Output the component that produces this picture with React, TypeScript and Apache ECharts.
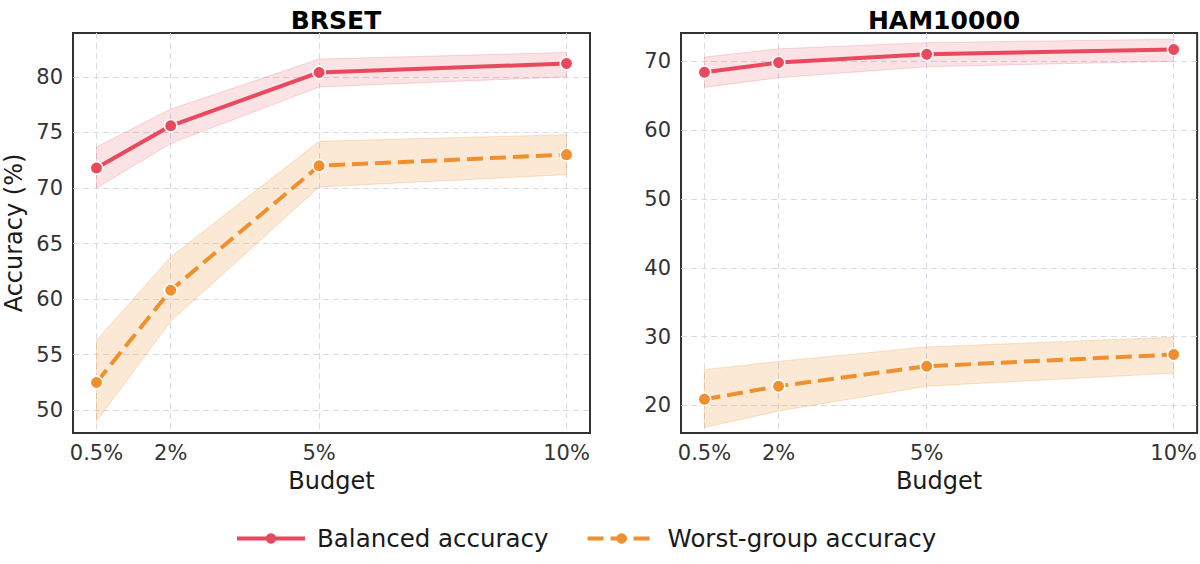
import React, { useEffect, useRef } from "react";
import * as echarts from "echarts";

// Budget positions (percent of data labelled) and their tick labels
const budgets = [0.5, 2, 5, 10];
const budgetLabels = ["0.5%", "2%", "5%", "10%"];

// BRSET
const brsetBalanced = [71.8, 75.6, 80.4, 81.2];
const brsetBalancedLo = [70.0, 74.0, 79.1, 80.0];
const brsetBalancedHi = [73.7, 77.1, 81.6, 82.2];
const brsetWorst = [52.5, 60.8, 72.0, 73.0];
const brsetWorstLo = [49.0, 58.0, 70.1, 71.2];
const brsetWorstHi = [56.3, 63.8, 74.2, 74.8];

// HAM10000
const hamBalanced = [68.4, 69.8, 71.0, 71.7];
const hamBalancedLo = [66.2, 67.6, 69.2, 70.0];
const hamBalancedHi = [70.6, 71.8, 72.7, 73.2];
const hamWorst = [20.9, 22.8, 25.7, 27.4];
const hamWorstLo = [16.8, 19.2, 22.8, 24.7];
const hamWorstHi = [25.2, 26.4, 28.5, 29.9];

// Y tick values per panel
const brsetTicks = [50, 55, 60, 65, 70, 75, 80];
const hamTicks = [20, 30, 40, 50, 60, 70];

const RED = "#e8495c";
const ORANGE = "#ef8f2e";
const FONT = "DejaVu Sans";

const gridLine = { show: true, lineStyle: { color: "#d6dce6", width: 1, type: [6, 4] } };

function xAxis(gridIndex: number) {
  return {
    type: "value",
    gridIndex,
    min: 0.025,
    max: 10.475,
    name: "Budget",
    nameLocation: "middle",
    nameGap: 36,
    nameTextStyle: { fontFamily: FONT, fontSize: 24, color: "#1a1a1a" },
    axisLine: { show: false },
    axisTick: { show: false, customValues: budgets },
    axisLabel: {
      customValues: budgets,
      margin: 9,
      fontFamily: FONT,
      fontSize: 21,
      color: "#333",
      formatter: (v: number) => {
        const i = budgets.indexOf(v);
        return i >= 0 ? budgetLabels[i] : "";
      },
    },
    splitLine: gridLine,
  };
}

function yAxis(gridIndex: number, min: number, max: number, ticks: number[], name: string) {
  return {
    type: "value",
    gridIndex,
    min,
    max,
    name,
    nameLocation: "middle",
    nameGap: 47,
    nameTextStyle: { fontFamily: FONT, fontSize: 24, color: "#1a1a1a" },
    axisLine: { show: false },
    axisTick: { show: false, customValues: ticks },
    axisLabel: { customValues: ticks, margin: 10, fontFamily: FONT, fontSize: 21, color: "#333" },
    splitLine: gridLine,
  };
}

// Shaded spread band between the lower and upper bounds
function band(idx: number, lo: number[], hi: number[], fill: string, stroke: string) {
  return {
    type: "custom",
    xAxisIndex: idx,
    yAxisIndex: idx,
    z: 1,
    silent: true,
    data: budgets.map((b, i) => [b, lo[i], hi[i]]),
    encode: { x: 0, y: [1, 2] },
    renderItem: (params: any, api: any) => {
      if (params.dataIndex !== 0) return null;
      const top = budgets.map((b, i) => api.coord([b, hi[i]]));
      const bottom = budgets.map((b, i) => api.coord([b, lo[i]])).reverse();
      return {
        type: "polygon",
        shape: { points: top.concat(bottom) },
        style: { fill, stroke, lineWidth: 1 },
      };
    },
  };
}

function line(idx: number, name: string, values: number[], color: string, dashed: boolean) {
  return {
    type: "line",
    name,
    xAxisIndex: idx,
    yAxisIndex: idx,
    z: 3,
    data: budgets.map((b, i) => [b, values[i]]),
    symbol: "circle",
    symbolSize: 12.5,
    itemStyle: { color, borderColor: "#fff", borderWidth: 1.5 },
    lineStyle: { color, width: 4, type: dashed ? [16, 7] : "solid" },
  };
}

const RED_FILL = "rgba(232,73,92,0.16)";
const RED_EDGE = "rgba(232,73,92,0.2)";
const OR_FILL = "rgba(239,143,46,0.2)";
const OR_EDGE = "rgba(239,143,46,0.25)";

export default function App() {
  const ref = useRef<HTMLDivElement>(null);

  useEffect(() => {
    if (!ref.current) return;
    const chart = echarts.init(ref.current, null, { renderer: "svg" });
    chart.setOption({
      animation: false,
      backgroundColor: "#fff",
      title: [
        {
          text: "BRSET",
          left: 331,
          top: 3,
          textAlign: "center",
          textStyle: { fontFamily: FONT, fontSize: 25, fontWeight: "bold", color: "#000" },
        },
        {
          text: "HAM10000",
          left: 939,
          top: 3,
          textAlign: "center",
          textStyle: { fontFamily: FONT, fontSize: 25, fontWeight: "bold", color: "#000" },
        },
      ],
      legend: {
        left: 235,
        top: 526,
        padding: 0,
        itemWidth: 68,
        itemHeight: 13,
        itemGap: 37,
        data: ["Balanced accuracy", "Worst-group accuracy"],
        lineStyle: { width: 4 },
        itemStyle: { borderWidth: 0 },
        textStyle: { fontFamily: FONT, fontSize: 24.5, color: "#1a1a1a", padding: [0, 0, 0, 7] },
      },
      grid: [
        { left: 73, top: 33, width: 517, height: 400, show: true, borderColor: "#333", borderWidth: 2 },
        { left: 681, top: 33, width: 517, height: 400, show: true, borderColor: "#333", borderWidth: 2 },
      ],
      xAxis: [xAxis(0), xAxis(1)],
      yAxis: [
        yAxis(0, 47.95, 83.95, brsetTicks, "Accuracy (%)"),
        yAxis(1, 16, 74.1, hamTicks, ""),
      ],
      series: [
        band(0, brsetBalancedLo, brsetBalancedHi, RED_FILL, RED_EDGE),
        band(0, brsetWorstLo, brsetWorstHi, OR_FILL, OR_EDGE),
        band(1, hamBalancedLo, hamBalancedHi, RED_FILL, RED_EDGE),
        band(1, hamWorstLo, hamWorstHi, OR_FILL, OR_EDGE),
        line(0, "Balanced accuracy", brsetBalanced, RED, false),
        line(0, "Worst-group accuracy", brsetWorst, ORANGE, true),
        line(1, "Balanced accuracy", hamBalanced, RED, false),
        line(1, "Worst-group accuracy", hamWorst, ORANGE, true),
      ],
    });
    return () => chart.dispose();
  }, []);

  return (
    <div
      ref={ref}
      style={{ position: "fixed", left: 0, top: 0, width: 1200, height: 564, background: "#fff" }}
    />
  );
}
